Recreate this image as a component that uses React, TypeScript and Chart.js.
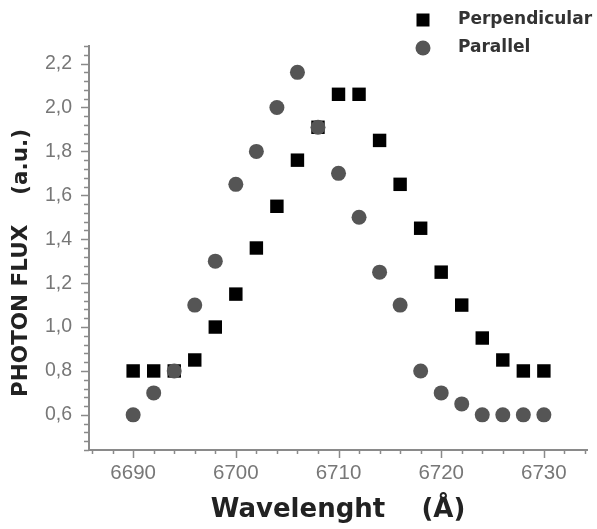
import React, { useEffect, useRef } from 'react';
import { Chart, registerables } from 'chart.js';

Chart.register(...registerables);

const wavelengths = [6690, 6692, 6694, 6696, 6698, 6700, 6702, 6704, 6706, 6708, 6710, 6712, 6714, 6716, 6718, 6720, 6722, 6724, 6726, 6728, 6730];
const perpendicular = [0.8, 0.8, 0.8, 0.85, 1.0, 1.15, 1.36, 1.55, 1.76, 1.91, 2.06, 2.06, 1.85, 1.65, 1.45, 1.25, 1.1, 0.95, 0.85, 0.8, 0.8];
const parallel = [0.6, 0.7, 0.8, 1.1, 1.3, 1.65, 1.8, 2.0, 2.16, 1.91, 1.7, 1.5, 1.25, 1.1, 0.8, 0.7, 0.65, 0.6, 0.6, 0.6, 0.6];

const seriesLabels = ['Perpendicular', 'Parallel'];
const xMajorTicks = [6690, 6700, 6710, 6720, 6730];
const yMajorTicks = [0.6, 0.8, 1.0, 1.2, 1.4, 1.6, 1.8, 2.0, 2.2];

const X_MIN = 6685.7;
const X_MAX = 6734.2;
const Y_MIN = 0.44;
const Y_MAX = 2.28;

const AXIS_COLOR = '#8a8a8a';
const TICK_TEXT = '#777777';

const tickPlugin = {
  id: 'customTicks',
  afterDraw(chart: any) {
    const { ctx, chartArea } = chart;
    const xs = chart.scales.x;
    const ys = chart.scales.y;
    ctx.save();
    ctx.strokeStyle = AXIS_COLOR;
    ctx.lineWidth = 1.5;
    for (let v = 6686; v <= 6734; v += 2) {
      const px = Math.round(xs.getPixelForValue(v)) + 0.5;
      const major = v % 10 === 0;
      ctx.beginPath();
      ctx.moveTo(px, chartArea.bottom);
      ctx.lineTo(px, chartArea.bottom + (major ? 8 : 4));
      ctx.stroke();
    }
    for (let i = 11; i <= 57; i++) {
      const v = i * 0.04;
      const py = Math.round(ys.getPixelForValue(v)) + 0.5;
      const major = i % 5 === 0;
      ctx.beginPath();
      ctx.moveTo(chartArea.left, py);
      ctx.lineTo(chartArea.left - (major ? 8 : 5), py);
      ctx.stroke();
    }
    ctx.restore();
  },
};

const legendPlugin = {
  id: 'customLegend',
  afterDraw(chart: any) {
    const { ctx, chartArea } = chart;
    const order = [0, 1];
    ctx.save();
    order.forEach((di, row) => {
      const ds = chart.data.datasets[di];
      const cx = chartArea.right - 164;
      const cy = 20 + row * 28;
      ctx.fillStyle = ds.backgroundColor;
      if (ds.pointStyle === 'rect') {
        ctx.fillRect(cx - 6.5, cy - 6.5, 13, 13);
      } else {
        ctx.beginPath();
        ctx.arc(cx, cy, 7.5, 0, Math.PI * 2);
        ctx.fill();
      }
      ctx.fillStyle = '#333333';
      ctx.font = 'bold 17px "DejaVu Sans"';
      ctx.textBaseline = 'middle';
      ctx.textAlign = 'left';
      ctx.fillText(ds.label, cx + 35, cy);
    });
    ctx.restore();
  },
};

export default function App() {
  const canvasRef = useRef<HTMLCanvasElement | null>(null);

  useEffect(() => {
    if (!canvasRef.current) return;
    const chart = new Chart(canvasRef.current, {
      type: 'scatter',
      data: {
        datasets: [
          {
            label: seriesLabels[0],
            data: wavelengths.map((x, i) => ({ x, y: perpendicular[i] })),
            pointStyle: 'rect',
            pointRadius: 9.5,
            pointHoverRadius: 9.5,
            backgroundColor: '#000000',
            borderColor: '#000000',
            borderWidth: 0,
            order: 1,
          },
          {
            label: seriesLabels[1],
            data: wavelengths.map((x, i) => ({ x, y: parallel[i] })),
            pointStyle: 'circle',
            pointRadius: 7.5,
            pointHoverRadius: 7.5,
            backgroundColor: '#555555',
            borderColor: '#555555',
            borderWidth: 0,
            order: 0,
          },
        ],
      },
      options: {
        responsive: false,
        animation: false,
        events: [],
        layout: { padding: { left: 4, right: 10, top: 46, bottom: 0 } },
        plugins: {
          legend: { display: false },
          tooltip: { enabled: false },
        },
        scales: {
          x: {
            type: 'linear',
            min: X_MIN,
            max: X_MAX,
            afterFit: (s: any) => { s.height = 79; },
            afterBuildTicks: (s: any) => { s.ticks = xMajorTicks.map((v) => ({ value: v })); },
            grid: { display: true, drawOnChartArea: false, drawTicks: true, tickLength: 8, tickColor: 'rgba(0,0,0,0)' },
            border: { display: true, color: AXIS_COLOR, width: 2 },
            ticks: {
              color: TICK_TEXT,
              font: { family: '"Liberation Sans", Arial', size: 20.5 },
              padding: 3,
              maxRotation: 0,
              callback: (v: any) => String(v),
            },
            title: {
              display: true,
              text: 'Wavelenght    (Å)',
              color: '#222222',
              font: { family: '"DejaVu Sans"', size: 26, weight: 'bold' },
              padding: { top: 0, bottom: 3 },
            },
          },
          y: {
            type: 'linear',
            min: Y_MIN,
            max: Y_MAX,
            afterFit: (s: any) => { s.width = 85; },
            afterBuildTicks: (s: any) => { s.ticks = yMajorTicks.map((v) => ({ value: v })); },
            grid: { display: true, drawOnChartArea: false, drawTicks: true, tickLength: 8, tickColor: 'rgba(0,0,0,0)' },
            border: { display: true, color: AXIS_COLOR, width: 2 },
            ticks: {
              color: TICK_TEXT,
              font: { family: '"Liberation Sans", Arial', size: 19.5 },
              padding: 9,
              callback: (v: any) => Number(v).toFixed(1).replace('.', ','),
            },
            title: {
              display: true,
              text: 'PHOTON FLUX    (a.u.)    ',
              color: '#222222',
              font: { family: '"DejaVu Sans"', size: 21.5, weight: 'bold' },
              padding: { top: 5, bottom: 0 },
            },
          },
        },
      },
      plugins: [tickPlugin, legendPlugin],
    });
    return () => chart.destroy();
  }, []);

  return (
    <div style={{ position: 'fixed', left: 0, top: 0, width: 597, height: 529, background: '#ffffff' }}>
      <canvas ref={canvasRef} width={597} height={529} style={{ width: 597, height: 529, display: 'block' }} />
    </div>
  );
}
